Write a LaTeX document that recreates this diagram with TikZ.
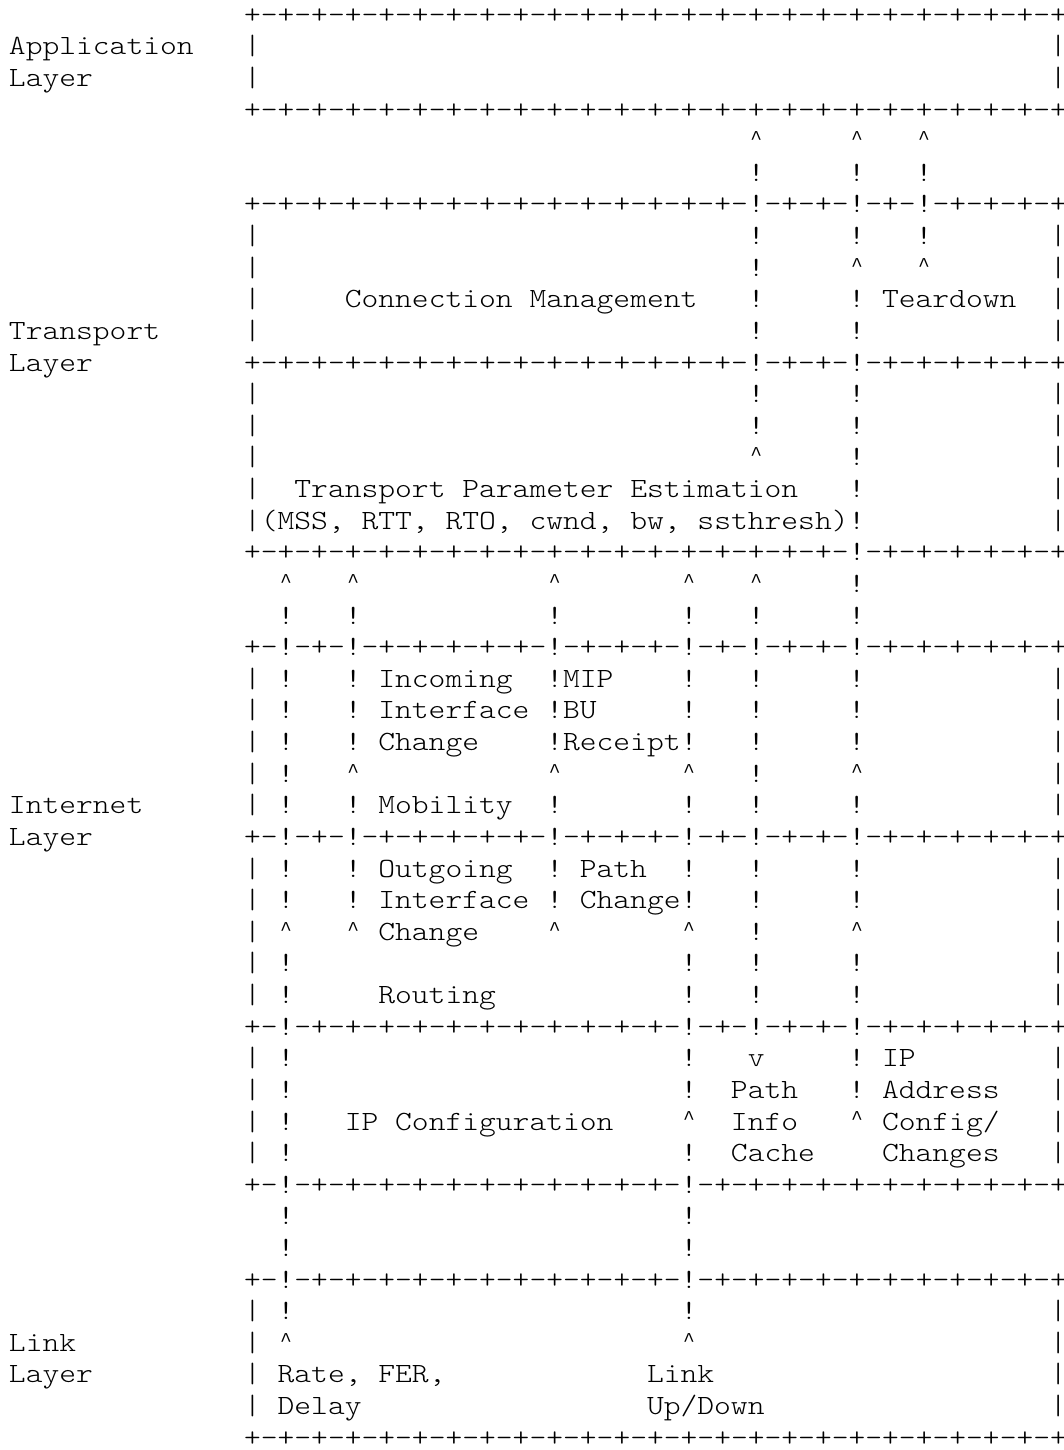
\documentclass[tikz,border=0pt]{standalone}
\usepackage{fontspec}
\newfontfamily\asciifont{lmmonolt10-regular.otf}[FakeStretch=1.15]
\newfontfamily\caretfont{Liberation Mono}
\newcommand\up{\makebox[6pt]{\raisebox{1.8pt}{\caretfont\fontsize{7pt}{8pt}\selectfont\textasciicircum}}}

\begin{document}
\begin{tikzpicture}[x=6pt, y=11.3pt,
    asc/.style={inner sep=0pt, outer sep=0pt, anchor=base west,
      font=\asciifont\fontsize{9.94pt}{11.3pt}\selectfont}]
    % Page frame
    \useasboundingbox (-0.535,0.735) rectangle (62.8,-45.12);
    % Layer names
    \node[asc] (appA) at (0,-1) {Application};
    \node[asc] (appB) at (0,-2) {Layer};
    \node[asc] (trpA) at (0,-10) {Transport};
    \node[asc] (trpB) at (0,-11) {Layer};
    \node[asc] (netA) at (0,-25) {Internet};
    \node[asc] (netB) at (0,-26) {Layer};
    \node[asc] (lnkA) at (0,-42) {Link};
    \node[asc] (lnkB) at (0,-43) {Layer};
    % Box rules
    \foreach \r/\s in {0/+-+-+-+-+-+-+-+-+-+-+-+-+-+-+-+-+-+-+-+-+-+-+-+-+,
                       3/+-+-+-+-+-+-+-+-+-+-+-+-+-+-+-+-+-+-+-+-+-+-+-+-+,
                       6/+-+-+-+-+-+-+-+-+-+-+-+-+-+-+-!-+-+-!-+-!-+-+-+-+,
                       11/+-+-+-+-+-+-+-+-+-+-+-+-+-+-+-!-+-+-!-+-+-+-+-+-+,
                       17/+-+-+-+-+-+-+-+-+-+-+-+-+-+-+-+-+-+-!-+-+-+-+-+-+,
                       20/+-!-+-!-+-+-+-+-+-!-+-+-+-!-+-!-+-+-!-+-+-+-+-+-+,
                       26/+-!-+-!-+-+-+-+-+-!-+-+-+-!-+-!-+-+-!-+-+-+-+-+-+,
                       32/+-!-+-+-+-+-+-+-+-+-+-+-+-!-+-!-+-+-!-+-+-+-+-+-+,
                       37/+-!-+-+-+-+-+-+-+-+-+-+-+-!-+-+-+-+-+-+-+-+-+-+-+,
                       40/+-!-+-+-+-+-+-+-+-+-+-+-+-!-+-+-+-+-+-+-+-+-+-+-+,
                       45/+-+-+-+-+-+-+-+-+-+-+-+-+-+-+-+-+-+-+-+-+-+-+-+-+}
      \node[asc] (rule\r) at (14,-\r) {\s};
    % Side walls
    \foreach \r in {1,2,7,8,9,10,12,13,14,15,16,21,22,23,24,25,
                    27,28,29,30,31,33,34,35,36,41,42,43,44} {
      \node[asc] (wallL\r) at (14,-\r) {|};
      \node[asc] (wallR\r) at (62,-\r) {|};
    }
    % Signal lines
    \foreach \r in {19,21,22,23,25,27,28}
      \foreach \c in {16,20,32,40,44,50}
        \node[asc] (bang\c-\r) at (\c,-\r) {!};
    \foreach \c/\r in {44/5,50/5,54/5,44/7,50/7,54/7,44/8,44/9,50/9,
                       44/10,50/10,44/12,50/12,44/13,50/13,50/14,50/15,
                       50/16,50/18,16/24,44/24,44/29,16/30,40/30,44/30,
                       50/30,16/31,40/31,44/31,50/31,16/33,40/33,50/33,
                       16/34,40/34,50/34,16/35,16/36,40/36,16/38,40/38,
                       16/39,40/39,16/41,40/41}
      \node[asc] (bang\c-\r) at (\c,-\r) {!};
    % Arrow heads
    \foreach \c/\r in {44/4,50/4,54/4,50/8,54/8,44/14,16/18,20/18,32/18,
                       40/18,44/18,20/24,32/24,40/24,50/24,16/29,20/29,
                       32/29,40/29,50/29,40/35,50/35,16/42,40/42}
      \node[asc] (up\c-\r) at (\c,-\r) {\up};
    \node[asc] (down44-33) at (44,-33) {v};
    % Transport blocks
    \node[asc] (conn) at (20,-9) {Connection Management};
    \node[asc] (tear) at (52,-9) {Teardown};
    \node[asc] (estA) at (17,-15) {Transport Parameter Estimation};
    \node[asc] (estB) at (15,-16) {(MSS, RTT, RTO, cwnd, bw, ssthresh)};
    % Internet blocks
    \node[asc] (incA) at (22,-21) {Incoming};
    \node[asc] (incB) at (22,-22) {Interface};
    \node[asc] (incC) at (22,-23) {Change};
    \node[asc] (mipA) at (33,-21) {MIP};
    \node[asc] (mipB) at (33,-22) {BU};
    \node[asc] (mipC) at (33,-23) {Receipt};
    \node[asc] (mob) at (22,-25) {Mobility};
    \node[asc] (outA) at (22,-27) {Outgoing};
    \node[asc] (outB) at (22,-28) {Interface};
    \node[asc] (outC) at (22,-29) {Change};
    \node[asc] (pathA) at (34,-27) {Path};
    \node[asc] (pathB) at (34,-28) {Change};
    \node[asc] (rout) at (22,-31) {Routing};
    \node[asc] (ipconf) at (20,-35) {IP Configuration};
    \node[asc] (pcA) at (43,-34) {Path};
    \node[asc] (pcB) at (43,-35) {Info};
    \node[asc] (pcC) at (43,-36) {Cache};
    \node[asc] (ipA) at (52,-33) {IP};
    \node[asc] (ipB) at (52,-34) {Address};
    \node[asc] (ipC) at (52,-35) {Config/};
    \node[asc] (ipD) at (52,-36) {Changes};
    % Link blocks
    \node[asc] (rateA) at (16,-43) {Rate, FER,};
    \node[asc] (rateB) at (16,-44) {Delay};
    \node[asc] (updA) at (38,-43) {Link};
    \node[asc] (updB) at (38,-44) {Up/Down};
\end{tikzpicture}
\end{document}
